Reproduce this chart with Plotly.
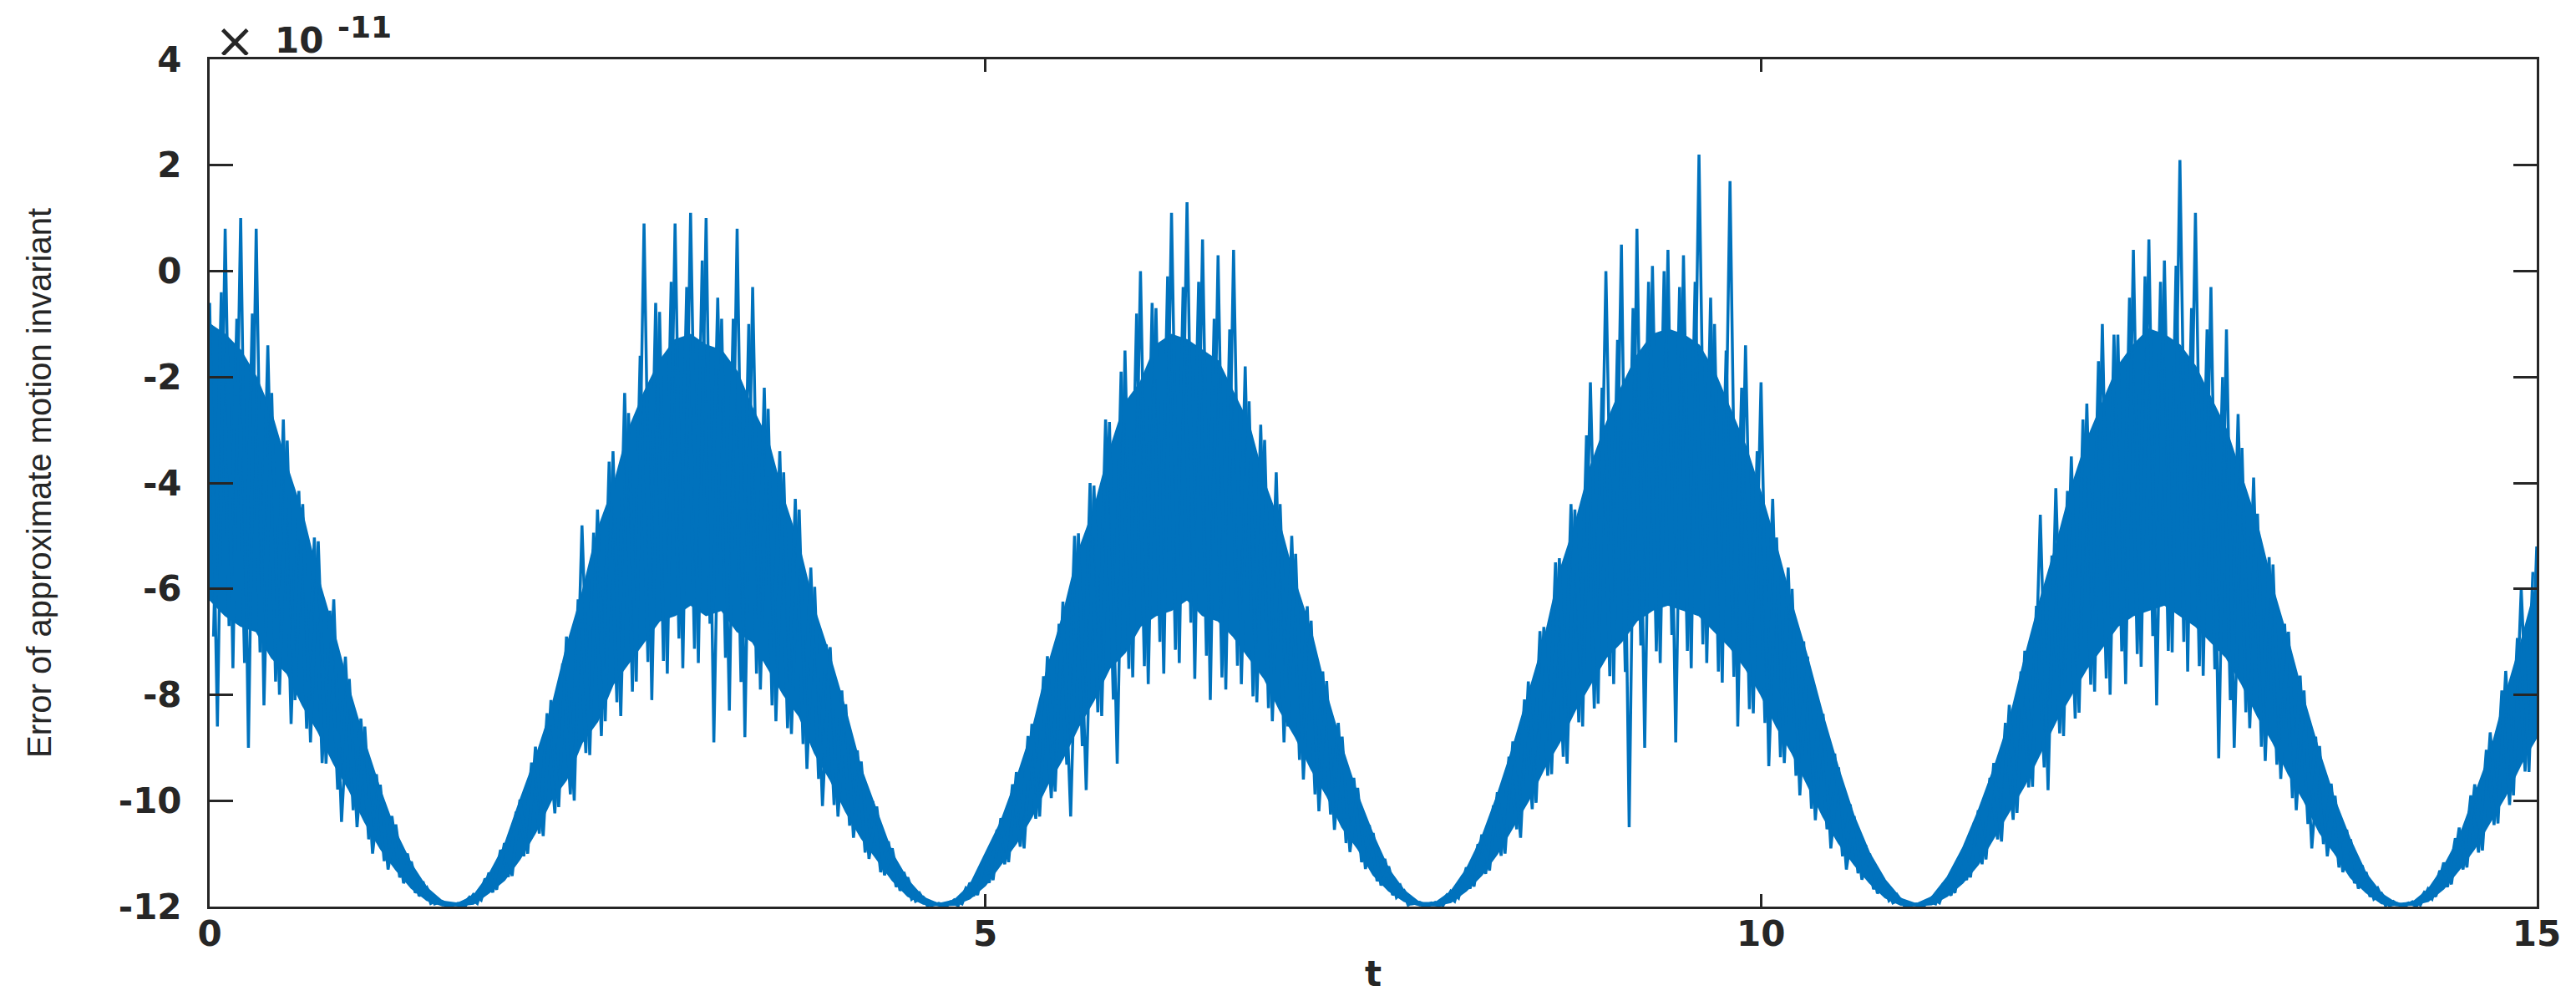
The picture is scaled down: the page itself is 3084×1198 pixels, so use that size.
import numpy as np
import plotly.graph_objects as go

# time grids: core band (step 0.1), spike tips (step 0.05) and the in-between tips
t_band = np.round(np.linspace(0, 15, 151), 3)
t_tips = np.round(np.linspace(0, 15, 301), 3)
t_tips2 = np.round(np.linspace(0.025, 14.975, 300), 3)

# upper / lower edge of the dense core band (units of 1e-11)
band_hi = [
    -1.0, -1.2, -1.5, -2.0, -2.7, -3.7, -4.6, -5.8, -6.8, -7.9,
    -8.9, -9.8, -10.6, -11.2, -11.65, -11.9, -11.94, -11.8, -11.4, -10.85,
    -10.0, -9.2, -8.3, -7.1, -6.1, -4.9, -4.1, -3.0, -2.3, -1.7,
    -1.3, -1.2, -1.4, -1.5, -1.9, -2.6, -3.2, -4.3, -5.2, -6.4,
    -7.3, -8.3, -9.4, -10.2, -11.0, -11.5, -11.83, -11.95, -11.88, -11.6,
    -11.0, -10.4, -9.6, -8.7, -7.5, -6.5, -5.3, -4.5, -3.4, -2.5,
    -2.1, -1.4, -1.2, -1.3, -1.5, -1.7, -2.3, -2.9, -4.0, -4.8,
    -5.9, -6.8, -8.0, -9.0, -9.9, -10.65, -11.3, -11.7, -11.93, -11.93,
    -11.72, -11.3, -10.7, -9.9, -9.0, -8.0, -7.0, -5.7, -4.8, -3.7,
    -2.9, -2.2, -1.6, -1.2, -1.1, -1.2, -1.4, -1.9, -2.6, -3.3,
    -4.2, -5.2, -6.3, -7.3, -8.4, -9.4, -10.3, -11.0, -11.5, -11.85,
    -11.95, -11.82, -11.45, -10.9, -10.2, -9.4, -8.5, -7.3, -6.2, -5.2,
    -4.1, -3.2, -2.5, -1.8, -1.4, -1.1, -1.2, -1.4, -1.8, -2.4,
    -3.0, -3.9, -4.8, -6.0, -7.0, -8.1, -9.1, -10.0, -10.75, -11.38,
    -11.76, -11.95, -11.92, -11.68, -11.25, -10.7, -9.9, -9.1, -8.0, -7.0,
    -5.9,
]
band_lo = [
    -6.2, -6.5, -6.7, -6.8, -7.3, -7.6, -8.2, -8.7, -9.3, -9.8,
    -10.4, -10.9, -11.3, -11.65, -11.88, -11.98, -11.98, -11.95, -11.74, -11.5,
    -11.1, -10.6, -10.0, -9.6, -8.9, -8.5, -7.8, -7.4, -7.0, -6.6,
    -6.5, -6.3, -6.5, -6.4, -6.8, -7.0, -7.5, -8.0, -8.4, -9.1,
    -9.6, -10.2, -10.7, -11.1, -11.5, -11.8, -11.95, -11.98, -11.97, -11.85,
    -11.6, -11.2, -10.8, -10.3, -9.7, -9.2, -8.6, -8.1, -7.5, -7.2,
    -6.7, -6.5, -6.4, -6.2, -6.5, -6.6, -6.9, -7.3, -7.7, -8.3,
    -8.8, -9.4, -9.9, -10.5, -10.9, -11.4, -11.7, -11.9, -11.98, -11.98,
    -11.92, -11.7, -11.4, -11.0, -10.5, -10.0, -9.4, -8.9, -8.3, -7.8,
    -7.3, -7.0, -6.6, -6.4, -6.3, -6.4, -6.5, -6.8, -7.1, -7.5,
    -8.0, -8.6, -9.1, -9.7, -10.3, -10.8, -11.2, -11.55, -11.83, -11.97,
    -11.98, -11.96, -11.8, -11.55, -11.2, -10.7, -10.2, -9.7, -9.1, -8.5,
    -8.0, -7.5, -7.1, -6.7, -6.5, -6.4, -6.3, -6.5, -6.7, -7.0,
    -7.3, -7.8, -8.4, -8.9, -9.5, -10.0, -10.6, -11.0, -11.45, -11.73,
    -11.94, -11.98, -11.97, -11.9, -11.66, -11.3, -10.9, -10.4, -9.9, -9.3,
    -8.8,
]

# spike tips of the fast oscillation, alternating up / down
tips = [
    -0.6, -8.6, 0.8, -7.5, 1.0, -9.0, 0.8, -8.2, -2.3, -8.0,
    -3.2, -8.1, -4.4, -8.9, -5.1, -9.3, -6.2, -10.4, -7.7, -10.5,
    -8.6, -11.0, -9.7, -11.3, -10.45, -11.56, -11.15, -11.8, -11.64, -11.95,
    -11.9, -11.99, -11.94, -11.98, -11.77, -11.88, -11.36, -11.68, -10.8, -11.42,
    -9.98, -11.0, -8.98, -10.67, -8.1, -10.12, -6.9, -10.0, -4.8, -9.14,
    -4.5, -8.5, -3.4, -8.4, -2.68, -7.75, 0.9, -8.1, -0.77, -7.6,
    0.9, -7.5, 1.1, -7.4, 1.0, -8.9, -0.9, -8.3, 0.8, -8.8,
    -0.3, -7.9, -2.6, -8.5, -3.8, -8.74, -4.5, -9.4, -5.96, -10.1,
    -7.1, -10.3, -8.18, -10.7, -9.26, -11.1, -10.11, -11.41, -10.9, -11.7,
    -11.45, -11.9, -11.82, -11.98, -11.94, -11.99, -11.87, -11.95, -11.55, -11.78,
    -11.04, -11.5, -10.33, -11.16, -9.46, -10.9, -8.55, -10.3, -7.27, -9.83,
    -6.24, -10.3, -4.95, -9.8, -4.05, -8.4, -2.85, -9.3, -1.5, -7.67,
    0.0, -7.8, -0.7, -7.6, 1.1, -7.4, 1.3, -7.7, 0.6, -8.1,
    0.3, -7.9, 0.4, -7.8, -2.46, -8.14, -3.19, -8.5, -4.4, -8.6,
    -5.34, -9.6, -6.6, -10.2, -7.74, -10.55, -8.79, -10.97, -9.76, -11.29,
    -10.61, -11.6, -11.24, -11.83, -11.7, -11.95, -11.92, -11.99, -11.92, -11.98,
    -11.71, -11.84, -11.26, -11.62, -10.64, -11.32, -9.84, -11.0, -8.88, -10.7,
    -7.75, -10.04, -6.72, -9.5, -5.42, -9.3, -4.5, -8.6, -2.1, -8.17,
    0.0, -7.8, 0.5, -10.5, 0.8, -9.0, 0.1, -7.4, 0.4, -8.9,
    0.3, -7.5, 2.2, -7.4, -1.0, -7.77, 1.7, -8.6, -1.4, -8.35,
    -2.1, -9.35, -5.03, -9.29, -6.0, -9.9, -7.28, -10.37, -8.36, -10.9,
    -9.37, -11.3, -10.29, -11.49, -11.0, -11.75, -11.54, -11.93, -11.86, -11.99,
    -11.95, -11.99, -11.83, -11.93, -11.48, -11.74, -10.92, -11.45, -10.18, -11.11,
    -9.29, -10.77, -8.19, -10.23, -7.17, -9.74, -4.6, -9.8, -4.1, -8.78,
    -3.5, -8.34, -2.5, -7.94, -1.0, -8.0, -1.2, -7.8, 0.4, -7.47,
    0.6, -8.2, 0.2, -7.2, 2.1, -7.56, 1.1, -7.64, -0.3, -9.2,
    -1.1, -9.0, -3.34, -8.63, -4.58, -9.25, -5.54, -9.59, -6.81, -10.18,
    -7.92, -10.9, -8.97, -11.05, -9.91, -11.35, -10.73, -11.66, -11.35, -11.86,
    -11.75, -11.98, -11.94, -11.99, -11.91, -11.97, -11.66, -11.81, -11.17, -11.58,
    -10.51, -11.26, -9.69, -10.94, -8.71, -10.43, -7.55, -9.9, -6.0, -9.46,
    -5.2,
]

# smaller tips lying between the ones above, alternating down / up
tips2 = [
    -6.9, -0.4, -6.7, -0.9, -7.4, -0.8, -7.2, -1.4, -7.75, -2.8,
    -8.55, -4.15, -8.64, -5.03, -9.29, -6.41, -9.79, -7.28, -10.18, -8.45,
    -10.73, -9.5, -11.14, -10.29, -11.45, -11.0, -11.74, -11.53, -11.94, -11.86,
    -11.99, -11.95, -11.99, -11.82, -11.94, -11.47, -11.73, -10.93, -11.44, -10.21,
    -11.05, -9.28, -10.62, -8.35, -10.24, -7.41, -9.88, -6.2, -9.1, -4.94,
    -8.78, -3.6, -8.14, -2.3, -7.94, -1.6, -7.38, -0.6, -7.36, -0.2,
    -6.94, -0.3, -7.13, 0.2, -6.66, -0.5, -7.3, -0.9, -7.76, -1.0,
    -7.6, -2.2, -8.2, -3.4, -8.63, -4.3, -8.93, -5.6, -9.59, -7.05,
    -10.08, -7.92, -10.47, -9.05, -10.98, -10.01, -11.35, -10.77, -11.63, -11.35,
    -11.86, -11.74, -11.98, -11.94, -11.99, -11.91, -11.98, -11.65, -11.8, -11.2,
    -11.55, -10.55, -11.2, -9.69, -10.87, -8.78, -10.34, -7.65, -9.95, -6.66,
    -9.32, -5.0, -8.97, -4.0, -8.33, -2.8, -8.09, -1.9, -7.51, -0.8,
    -7.46, -0.6, -7.0, -0.1, -7.15, -0.3, -6.64, -0.2, -7.26, -0.9,
    -7.67, -1.1, -7.45, -1.8, -8.03, -2.9, -8.25, -3.8, -8.9, -5.0,
    -9.23, -6.33, -9.88, -7.56, -10.26, -8.53, -10.8, -9.57, -11.16, -10.46,
    -11.52, -11.1, -11.78, -11.6, -11.97, -11.9, -11.99, -11.93, -11.99, -11.78,
    -11.9, -11.42, -11.66, -10.82, -11.38, -10.09, -11.04, -9.17, -10.54, -8.09,
    -10.16, -6.8, -9.53, -5.5, -9.17, -4.4, -8.52, -3.1, -8.26, -2.2,
    -7.65, -1.3, -7.57, -0.7, -7.07, -0.2, -7.18, 0.0, -6.87, -0.3,
    -7.17, -0.2, -7.05, -0.5, -7.56, -1.5, -7.66, -2.2, -8.27, -3.4,
    -8.53, -4.3, -9.18, -5.6, -9.53, -6.99, -10.15, -8.19, -10.54, -9.11,
    -11.05, -10.07, -11.37, -10.84, -11.67, -11.41, -11.89, -11.77, -11.99, -11.95,
    -11.99, -11.9, -11.95, -11.56, -11.79, -11.08, -11.5, -10.4, -11.2, -9.57,
    -10.73, -8.53, -10.36, -7.56, -9.75, -6.32, -9.37, -5.37, -8.73, -4.15,
    -8.45, -2.8, -7.81, -1.7, -7.69, -1.2, -7.18, -0.5, -7.23, -0.1,
    -6.89, -0.2, -7.17, 0.1, -7.0, -0.7, -7.46, -1.1, -7.52, -2.0,
    -8.1, -2.7, -8.33, -3.9, -8.98, -5.4, -9.32, -6.66, -9.95, -7.64,
    -10.44, -8.79, -10.82, -9.68, -11.26, -10.55, -11.56, -11.22, -11.81, -11.65,
    -11.98, -11.9, -11.99, -11.93, -11.99, -11.73, -11.86, -11.32, -11.63, -10.71,
    -11.3, -9.9, -10.98, -9.04, -10.46, -7.92, -10.08, -6.93, -9.45, -5.68,
]

x_ticks = [0, 5, 10, 15]
y_ticks = [-12, -10, -8, -6, -4, -2, 0, 2, 4]

LINE = "#0072BD"
AXIS = "#262626"
TICK_FONT = dict(size=42, weight="bold", family="DejaVu Sans", color=AXIS)

fig = go.Figure()

fig.add_trace(go.Scatter(
    x=list(t_band) + list(t_band[::-1]),
    y=band_hi + band_lo[::-1],
    fill="toself",
    fillcolor=LINE,
    line=dict(color=LINE, width=2),
    mode="lines",
    hoverinfo="skip",
    showlegend=False,
))

for tt, yy in [(t_tips2, tips2), (t_tips, tips)]:
    fig.add_trace(go.Scatter(
        x=tt,
        y=yy,
        mode="lines",
        line=dict(color=LINE, width=3.5),
        showlegend=False,
    ))


def top_label(text, size, xshift, yshift, bold=True):
    # piece of the "x10^-11" exponent label above the top-left corner
    return dict(
        text=f"<b>{text}</b>" if bold else text,
        xref="paper", yref="paper", x=0, y=1,
        xanchor="center", yanchor="middle",
        xshift=xshift, yshift=yshift,
        height=34,
        showarrow=False,
        font=dict(size=size, color=AXIS, family="DejaVu Sans"),
    )


fig.update_layout(
    width=3084,
    height=1198,
    plot_bgcolor="white",
    paper_bgcolor="white",
    margin=dict(l=243, r=55, t=63, b=121),
    font=dict(family="DejaVu Sans, Liberation Sans, sans-serif", color=AXIS),
    showlegend=False,
    annotations=[
        top_label("×", 58, 30, 22, bold=False),
        top_label("10", 42, 107, 23),
        top_label("-11", 36, 185, 39),
        # y axis title
        dict(
            text="Error of approximate motion invariant",
            xref="paper", yref="paper", x=0, y=0.5,
            xanchor="center", yanchor="middle",
            xshift=-204,
            textangle=-90,
            showarrow=False,
            font=dict(size=40, color=AXIS, family="Liberation Sans"),
        ),
    ],
)

fig.update_xaxes(
    range=[0, 15],
    tickvals=x_ticks,
    ticktext=[str(v) for v in x_ticks],
    showgrid=False,
    zeroline=False,
    showline=True,
    linecolor=AXIS,
    linewidth=3,
    mirror="ticks",
    ticks="inside",
    ticklen=15,
    tickwidth=3,
    tickcolor=AXIS,
    ticklabelstandoff=-6,
    tickfont=TICK_FONT,
    title=dict(text="t", font=TICK_FONT, standoff=10),
)

fig.update_yaxes(
    range=[-12, 4],
    tickvals=y_ticks,
    ticktext=[str(v) for v in y_ticks],
    showgrid=False,
    zeroline=False,
    showline=True,
    linecolor=AXIS,
    linewidth=3,
    mirror="ticks",
    ticks="inside",
    ticklen=28,
    tickwidth=3,
    tickcolor=AXIS,
    ticklabelstandoff=22,
    tickfont=TICK_FONT,
)

fig.write_html("out.html")
